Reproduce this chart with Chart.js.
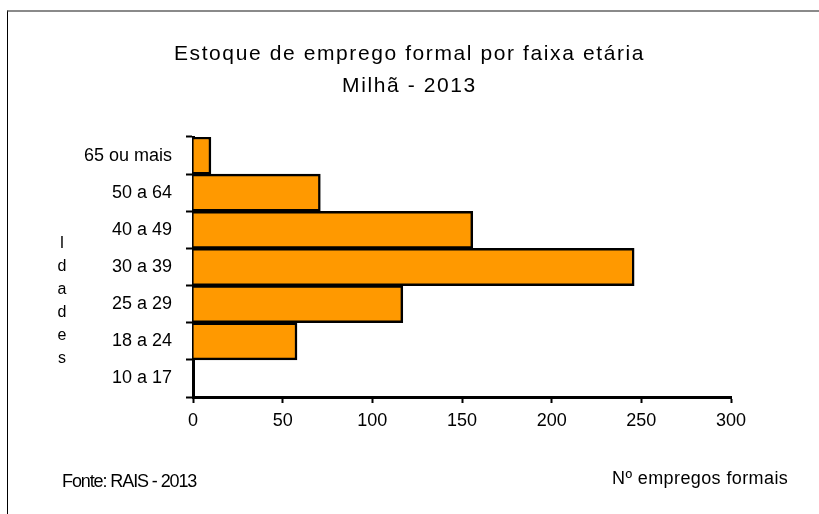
<!DOCTYPE html>
<html lang="pt">
<head>
<meta charset="UTF-8">
<title>Estoque de emprego formal por faixa etária - Milhã 2013</title>
<script src="https://cdn.jsdelivr.net/npm/chart.js"></script>
<style>
html, body { margin: 0; padding: 0; background: #fff; font-family: "Liberation Sans", Arial, sans-serif; }
#wrap { position: relative; width: 819px; height: 514px; overflow: hidden; }
#frame { position: absolute; left: 7px; top: 10px; width: 900px; height: 600px; border-top: 2px solid #8a8a8a; border-left: 1px solid #000; }
#titulo { position: absolute; left: 0; top: 37px; width: 819px; text-align: center; font-size: 21px; line-height: 32px; letter-spacing: 1.6px; color: #000; }
#idades { position: absolute; left: 52px; top: 231px; width: 20px; text-align: center; font-size: 16px; line-height: 23px; color: #000; }
#fonte { position: absolute; left: 62px; top: 471px; font-size: 18px; line-height: 20px; letter-spacing: -1.1px; color: #000; }
#eixo { position: absolute; left: 612px; top: 468px; font-size: 18px; line-height: 20px; letter-spacing: 0.4px; color: #000; }
</style>
</head>
<body>
<div id="wrap">
  <div id="frame"></div>
  <canvas id="myChart" width="819" height="514"></canvas>
  <div id="titulo"></div>
  <div id="idades">I<br>d<br>a<br>d<br>e<br>s</div>
  <div id="fonte">Fonte: RAIS - 2013</div>
  <div id="eixo">Nº empregos formais</div>
</div>

<script>
// faixas etarias (de baixo para cima) e numero de empregos
var Faixas = ['10 a 17', '18 a 24', '25 a 29', '30 a 39', '40 a 49', '50 a 64', '65 ou mais'];
var Empregos = [0, 58, 117, 246, 156, 71, 10];
var TituloLinhas = ['Estoque de emprego formal por faixa etária', 'Milhã - 2013'];

document.getElementById('titulo').innerHTML = TituloLinhas.join('<br>');

Chart.defaults.font.family = '"Liberation Sans", Arial, sans-serif';
Chart.defaults.color = '#000';

var ctx = document.getElementById('myChart').getContext('2d');

var chart = new Chart(ctx, {
    type: 'bar',
    data: {
        labels: Faixas,
        datasets: [{
            label: 'Empregos formais',
            data: Empregos,
            backgroundColor: '#FF9900',
            borderColor: '#000',
            borderWidth: 2.5,
            barPercentage: 1,
            categoryPercentage: 1
        }]
    },
    options: {
        indexAxis: 'y',
        responsive: false,
        animation: false,
        layout: { padding: { left: 0, right: 88, top: 137, bottom: 0 } },
        plugins: {
            legend: { display: false },
            tooltip: { enabled: false },
            title: { display: false }
        },
        scales: {
            x: {
                min: 0,
                max: 300,
                ticks: { stepSize: 50, font: { size: 18 }, padding: 7, color: '#000' },
                grid: { drawOnChartArea: false, drawTicks: true, tickLength: 6, tickColor: '#000', tickWidth: 2 },
                border: { color: '#000', width: 3 },
                afterFit: function(scale) { scale.height = 117; }
            },
            y: {
                reverse: true,
                ticks: { font: { size: 18 }, padding: 14, color: '#000' },
                grid: { drawOnChartArea: false, drawTicks: true, tickLength: 7, tickColor: '#000', tickWidth: 2 },
                border: { color: '#000', width: 3 },
                afterFit: function(scale) { scale.width = 193; }
            }
        }
    }
});
</script>
</body>
</html>
